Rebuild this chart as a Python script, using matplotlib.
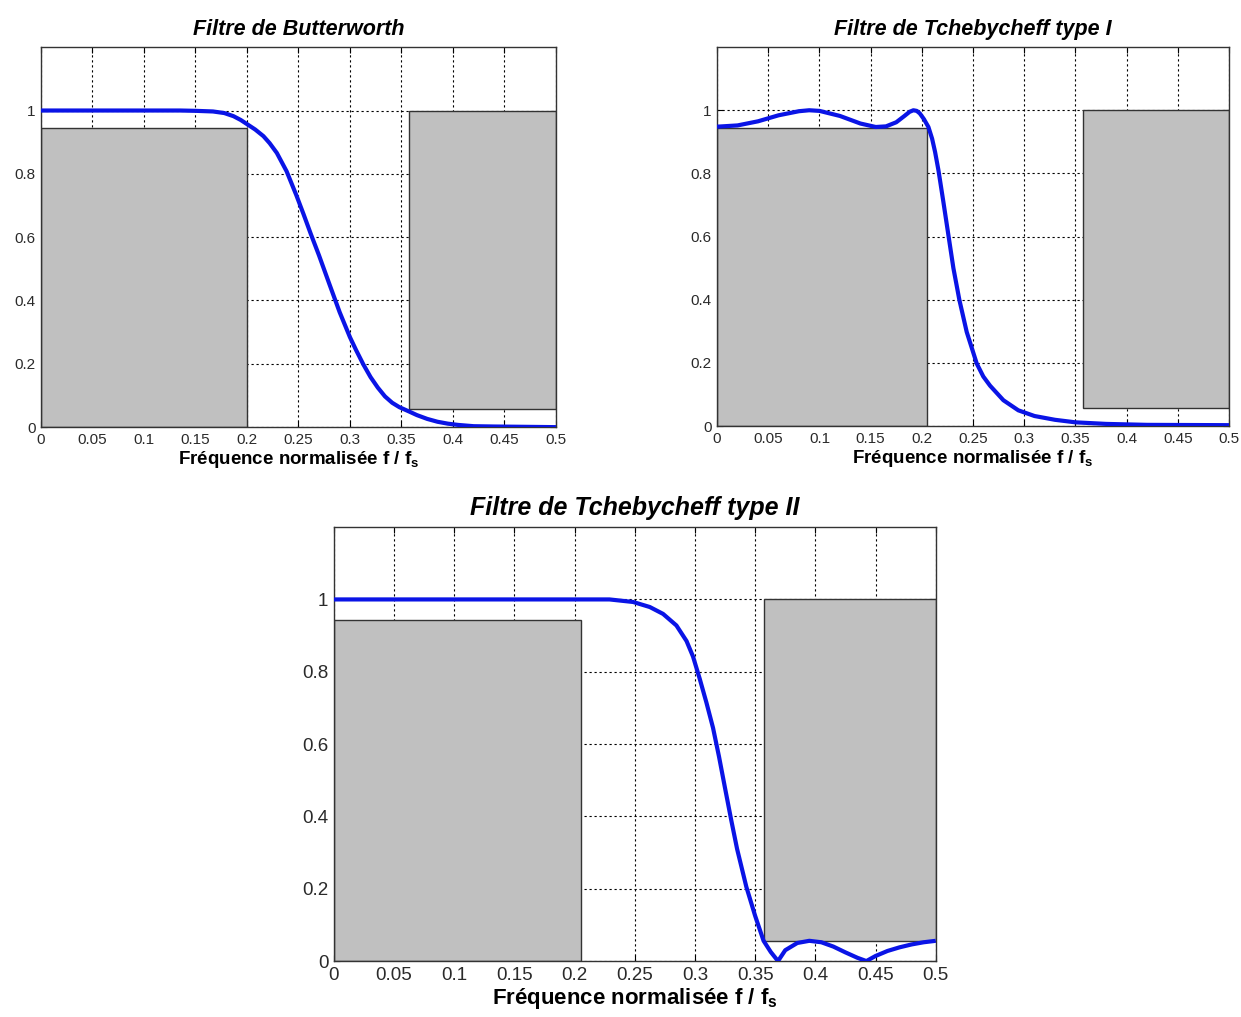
import numpy as np
import matplotlib.pyplot as plt
from matplotlib.patches import Rectangle

plt.rcParams['font.family'] = ['Liberation Sans', 'DejaVu Sans']
plt.rcParams['mathtext.fontset'] = 'custom'
plt.rcParams['mathtext.rm'] = 'Liberation Sans'
plt.rcParams['mathtext.bf'] = 'Liberation Sans:bold'

# gabarit (template) : passband and stopband limits, per filter
f_pass = [0.2, 0.205, 0.205]
f_stop = 0.357
gain_pass_min = 0.944
gain_stop_max = 0.056

x_ticks = [0, 0.05, 0.1, 0.15, 0.2, 0.25, 0.3, 0.35, 0.4, 0.45, 0.5]
x_tick_labels = ['0', '0.05', '0.1', '0.15', '0.2', '0.25', '0.3', '0.35', '0.4', '0.45', '0.5']
y_ticks = [0, 0.2, 0.4, 0.6, 0.8, 1]
y_tick_labels = ['0', '0.2', '0.4', '0.6', '0.8', '1']

# curves
butter_f = [0, 0.05, 0.1, 0.135, 0.15, 0.167, 0.178, 0.187, 0.194, 0.201, 0.208, 0.216,
            0.222, 0.229, 0.2385, 0.248, 0.255, 0.262, 0.27, 0.28, 0.29, 0.3, 0.306,
            0.313, 0.32, 0.327, 0.334, 0.341, 0.348, 0.357, 0.365, 0.375, 0.385, 0.395,
            0.405, 0.42, 0.44, 0.47, 0.5]
butter_g = [1.0, 1.0, 1.0, 1.0, 0.999, 0.997, 0.992, 0.982, 0.97, 0.955, 0.94, 0.919,
            0.897, 0.866, 0.808, 0.732, 0.672, 0.61, 0.542, 0.452, 0.363, 0.284, 0.243,
            0.198, 0.158, 0.125, 0.097, 0.077, 0.063, 0.05, 0.038, 0.026, 0.017, 0.011,
            0.007, 0.003, 0.002, 0.001, 0.0]

cheb1_f = [0, 0.02, 0.04, 0.06, 0.08, 0.09, 0.1, 0.12, 0.14, 0.155, 0.165, 0.175, 0.183,
           0.188, 0.1917, 0.195, 0.198, 0.202, 0.2064, 0.21, 0.2129, 0.2162, 0.221, 0.2259,
           0.2308, 0.2366, 0.2438, 0.2536, 0.26, 0.2666, 0.2796, 0.2942, 0.31, 0.33,
           0.35, 0.38, 0.42, 0.5]
cheb1_g = [0.948, 0.952, 0.965, 0.984, 0.997, 1.0, 0.998, 0.982, 0.958, 0.947, 0.949,
           0.962, 0.982, 0.995, 1.0, 0.998, 0.99, 0.972, 0.947, 0.91, 0.868, 0.81, 0.71,
           0.605, 0.5, 0.4, 0.298, 0.198, 0.157, 0.128, 0.082, 0.05, 0.032, 0.02, 0.012,
           0.007, 0.004, 0.003]

cheb2_f = [0, 0.1, 0.1877, 0.229, 0.2486, 0.2625, 0.2735, 0.2846, 0.293, 0.2984, 0.304,
           0.3095, 0.315, 0.32, 0.325, 0.33, 0.335, 0.3427, 0.35, 0.357, 0.363, 0.369,
           0.375, 0.385, 0.395, 0.405, 0.415, 0.425, 0.435, 0.4424, 0.45, 0.46, 0.47,
           0.48, 0.49, 0.5]
cheb2_g = [1.0, 1.0, 1.0, 1.0, 0.993, 0.979, 0.96, 0.928, 0.885, 0.842, 0.78, 0.715,
           0.645, 0.565, 0.478, 0.392, 0.31, 0.205, 0.125, 0.056, 0.025, 0.0, 0.03, 0.05,
           0.056, 0.052, 0.04, 0.024, 0.009, 0.0, 0.014, 0.028, 0.038, 0.046, 0.052,
           0.056]


def draw_panel(ax, freq, gain, f_edge, title, title_size, tick_size, label_size):
    ax.set_xlim(0, 0.5)
    ax.set_ylim(0, 1.2)
    ax.set_xticks(x_ticks)
    ax.set_xticklabels(x_tick_labels)
    ax.set_yticks(y_ticks)
    ax.set_yticklabels(y_tick_labels)
    ax.grid(True, color='black', linestyle=(0, (2, 2.5)), linewidth=0.8, zorder=0)
    ax.set_axisbelow(True)

    # gabarit rectangles
    ax.add_patch(Rectangle((0, 0), f_edge, gain_pass_min, facecolor='#c0c0c0',
                           edgecolor='#333333', linewidth=1, zorder=2))
    ax.add_patch(Rectangle((f_stop, gain_stop_max), 0.5 - f_stop, 1 - gain_stop_max,
                           facecolor='#c0c0c0', edgecolor='#333333', linewidth=1, zorder=2))

    ax.plot(freq, gain, color='#0a14e6', linewidth=3, zorder=3,
            solid_joinstyle='round', solid_capstyle='butt')

    ax.tick_params(direction='in', length=4, top=True, right=True,
                   labelsize=tick_size, labelcolor='#2a2a2a', pad=4)
    for s in ax.spines.values():
        s.set_color('#333333')
        s.set_linewidth(1)
    ax.set_title(title, fontsize=title_size, fontweight='bold', style='italic', pad=9)
    ax.set_xlabel('Fréquence normalisée f / f$_\\mathbf{s}$', fontsize=label_size,
                  fontweight='bold', labelpad=2)


fig = plt.figure(figsize=(12.41, 10.17), dpi=100)
ax1 = fig.add_axes([0.033, 0.580, 0.415, 0.3736])
ax2 = fig.add_axes([0.5778, 0.581, 0.4126, 0.3727])
ax3 = fig.add_axes([0.269, 0.055, 0.485, 0.4267])

draw_panel(ax1, butter_f, butter_g, f_pass[0], 'Filtre de Butterworth', 15.5, 11, 13.5)
draw_panel(ax2, cheb1_f, cheb1_g, f_pass[1], 'Filtre de Tchebycheff type I', 15.5, 11, 13.5)
draw_panel(ax3, cheb2_f, cheb2_g, f_pass[2], 'Filtre de Tchebycheff type II', 18, 13.5, 16)

fig.savefig('out.png', dpi=100)
